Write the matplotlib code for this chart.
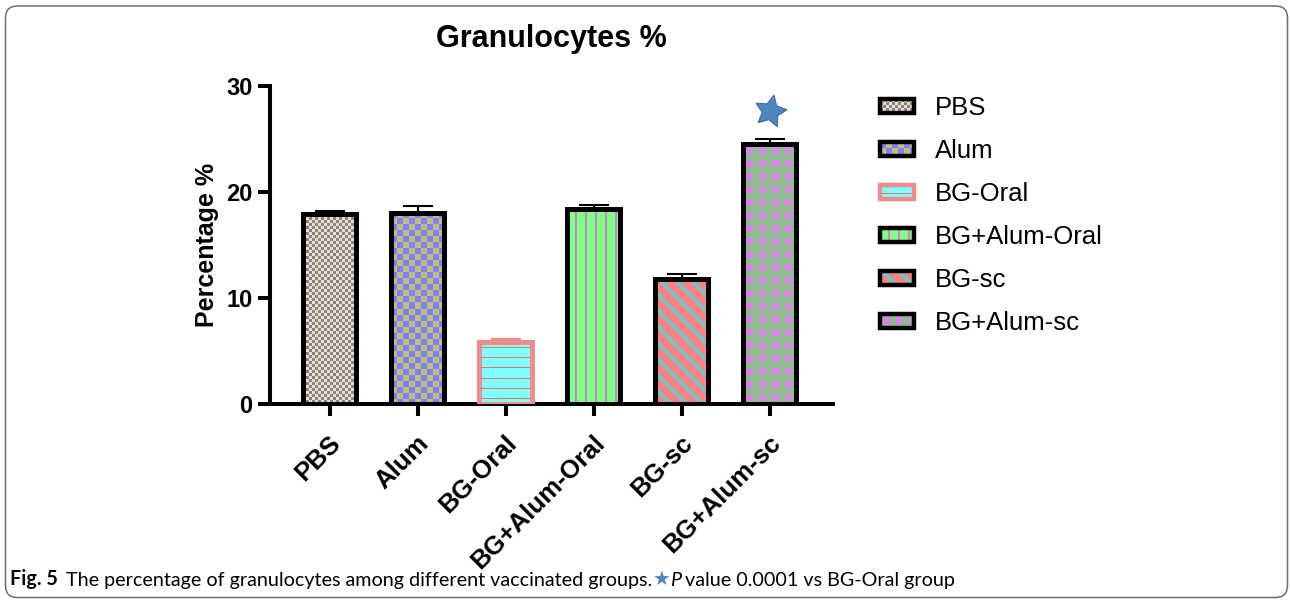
import numpy as np
import matplotlib
matplotlib.use("Agg")
import matplotlib.pyplot as plt
from matplotlib.colors import to_rgb
from matplotlib.patches import Rectangle, FancyBboxPatch
from matplotlib.collections import PatchCollection
from matplotlib.legend_handler import HandlerBase
from matplotlib.transforms import IdentityTransform, ScaledTranslation

plt.rcParams["font.family"] = ["Liberation Sans", "DejaVu Sans"]

# group means and upper error bars (%)
groups = ["PBS", "Alum", "BG-Oral", "BG+Alum-Oral", "BG-sc", "BG+Alum-sc"]
means = [17.9, 18.05, 5.85, 18.4, 11.8, 24.5]
errors = [0.3, 0.65, 0.28, 0.4, 0.5, 0.5]
yticks = [0, 10, 20, 30]
star_group = "BG+Alum-sc"
star_y = 27.6

edge_colors = ["black", "black", "#f28b8b", "black", "black", "black"]


def rgb(c):
    return np.array(to_rgb(c))


def grid(ny, nx):
    return np.mgrid[0:ny, 0:nx]


def fill2(mask, fg, bg):
    return np.where(mask[..., None], rgb(fg), rgb(bg))


def pat_pbs(ny, nx):
    yy, xx = grid(ny, nx)
    return fill2((yy // 3 + xx // 3) % 2 == 0, "#ffdab9", "#778899")


def pat_alum(ny, nx):
    yy, xx = grid(ny, nx)
    return fill2((yy // 6 + xx // 6) % 2 == 0, "#8080ff", "#bfbf78")


def pat_bg_oral(ny, nx):
    yy, xx = grid(ny, nx)
    return fill2((ny - 1 - yy) % 10 == 5, "#e07a7a", "#80ffff")


def pat_bg_alum_oral(ny, nx):
    yy, xx = grid(ny, nx)
    return fill2(xx % 10 >= 8, "#cc80d6", "#80ff80")


def pat_bg_sc(ny, nx):
    yy, xx = grid(ny, nx)
    return fill2((xx - yy) % 16 < 6, "#80c0c0", "#ff8080")


def pat_bg_alum_sc(ny, nx):
    yy, xx = grid(ny, nx)
    sq = (xx % 13 >= 3) & (xx % 13 < 10) & (yy % 13 >= 3) & (yy % 13 < 10)
    return fill2(sq, "#d884e8", "#8fbc8f")


patterns = [pat_pbs, pat_alum, pat_bg_oral, pat_bg_alum_oral, pat_bg_sc, pat_bg_alum_sc]


class PatternHandler(HandlerBase):
    """Legend key filled with the same pixel pattern as its bar."""

    def __init__(self, idx):
        super().__init__()
        self.idx = idx

    def create_artists(self, legend, orig_handle, xdescent, ydescent,
                       width, height, fontsize, trans):
        dpi = legend.figure.dpi
        nx = max(1, int(round(width * dpi / 72)))
        ny = max(1, int(round(height * dpi / 72)))
        img = patterns[self.idx](ny, nx)
        dx, dy = width / nx, height / ny
        rects, colors = [], []
        for r in range(ny):
            for c in range(nx):
                rects.append(Rectangle((-xdescent + c * dx, -ydescent + (ny - 1 - r) * dy), dx, dy))
                colors.append(img[r, c])
        fill = PatchCollection(rects, facecolors=colors, edgecolors="none",
                               linewidths=0, antialiased=False, transform=trans)
        frame = Rectangle((-xdescent, -ydescent), width, height, fill=False,
                          edgecolor=edge_colors[self.idx], linewidth=3.2, transform=trans)
        return [fill, frame]


fig = plt.figure(figsize=(12.9, 6.0), dpi=100)
ax = fig.add_axes([270 / 1290, 196 / 600, 563 / 1290, 318 / 600])

x = np.arange(len(groups))
ax.set_xlim(-0.68, 5.72)
ax.set_ylim(0, 30)
ax.set_autoscale_on(False)

bars = ax.bar(x, means, width=0.6, facecolor="none", edgecolor=edge_colors,
              linewidth=3.6, zorder=3)
for i, bar in enumerate(bars):
    x0, y0 = bar.get_xy()
    w, h = bar.get_width(), bar.get_height()
    (px0, py0), (px1, py1) = ax.transData.transform([(x0, y0), (x0 + w, y0 + h)])
    nx = max(1, int(round(px1 - px0)))
    ny = max(1, int(round(py1 - py0)))
    im = ax.imshow(patterns[i](ny, nx), extent=(x0, x0 + w, y0, y0 + h),
                   aspect="auto", interpolation="nearest", zorder=2)
    im.set_clip_path(bar)

for i in range(len(groups)):
    ax.errorbar(x[i], means[i], yerr=[[0], [errors[i]]], fmt="none",
                ecolor=edge_colors[i], elinewidth=1.5, capsize=10.5, capthick=1.5, zorder=4)

si = groups.index(star_group)
ax.plot(x[si], star_y, marker=(5, 1, -12), markersize=24, color="#4f86c1",
        markeredgecolor="#3b6ca3", markeredgewidth=0.8, zorder=5)

for side in ["top", "right"]:
    ax.spines[side].set_visible(False)
for side in ["left", "bottom"]:
    ax.spines[side].set_linewidth(2.9)

ax.set_yticks(yticks)
ax.set_yticklabels([str(t) for t in yticks], fontsize=17, fontweight="bold")
ax.set_xticks(x)
ax.set_xticklabels(groups, fontsize=18.5, fontweight="bold", rotation=45,
                   ha="right", va="center", rotation_mode="anchor")
ax.tick_params(axis="both", length=8.6, width=2.9)
ax.tick_params(axis="y", pad=4)
ax.tick_params(axis="x", pad=17)
shift = ScaledTranslation(5 / 72, 0, fig.dpi_scale_trans)
for lbl in ax.get_xticklabels():
    lbl.set_transform(lbl.get_transform() + shift)

ax.set_ylabel("Percentage %", fontsize=18, fontweight="bold", labelpad=5)
ax.set_title("Granulocytes %", fontsize=22, fontweight="bold", pad=28)

proxies = [Rectangle((0, 0), 1, 1) for _ in groups]
ax.legend(proxies, groups,
          handler_map={p: PatternHandler(i) for i, p in enumerate(proxies)},
          loc="upper left", bbox_to_anchor=(880 / 1290, 1 - 96 / 600),
          bbox_transform=fig.transFigure, frameon=False, fontsize=18.5,
          handlelength=1.33, handleheight=0.47, handletextpad=0.82,
          labelspacing=0.74, borderpad=0, borderaxespad=0)

# caption line under the chart
cap_font = ["Lato", "DejaVu Sans"]
cap_size = 14.2
t = fig.text(10 / 1290, 1 - 589 / 600, "Fig. 5", fontsize=cap_size,
             fontweight="bold", family=cap_font, va="bottom")
pieces = [
    ("The percentage of granulocytes among different vaccinated groups.", {}, 6),
    ("\u2605", {"color": "#4f86c1", "family": ["DejaVu Sans"]}, 0),
    ("P", {"style": "italic"}, 0),
    ("value 0.0001 vs BG-Oral group", {}, 3),
]
for text, kw, gap in pieces:
    opts = {"fontsize": cap_size, "family": cap_font}
    opts.update(kw)
    t = ax.annotate(text, xy=(1, 0), xycoords=t, xytext=(gap, 0),
                    textcoords="offset points", ha="left", va="bottom",
                    annotation_clip=False, **opts)

frame = FancyBboxPatch((5.5, 2.5), 1282, 591.5, boxstyle="round,pad=0,rounding_size=12",
                       transform=IdentityTransform(), facecolor="none",
                       edgecolor="#6e6e6e", linewidth=1.1)
fig.add_artist(frame)

fig.savefig("out.png", dpi=100)
